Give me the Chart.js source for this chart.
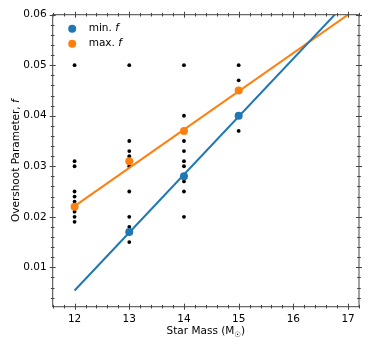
<!DOCTYPE html>
<html>
<head>
<meta charset="utf-8">
<script src="https://cdn.jsdelivr.net/npm/chart.js@4"></script>
<style>
  html, body { margin: 0; padding: 0; background: #fff; }
  #wrap { width: 374px; height: 347px; }
</style>
</head>
<body>
<div id="wrap"><canvas id="overshoot"></canvas></div>
<script>
// observed runs (black dots)
const obsMass = [
  12, 12, 12, 12, 12, 12, 12, 12, 12, 12,
  13, 13, 13, 13, 13, 13, 13, 13, 13, 13, 13,
  14, 14, 14, 14, 14, 14, 14, 14, 14, 14, 14,
  15, 15, 15, 15, 15
]
const obsF = [
  0.050, 0.031, 0.030, 0.025, 0.024, 0.023, 0.022, 0.021, 0.020, 0.019,
  0.050, 0.035, 0.033, 0.032, 0.031, 0.030, 0.025, 0.020, 0.018, 0.017, 0.015,
  0.050, 0.040, 0.037, 0.035, 0.033, 0.031, 0.030, 0.028, 0.027, 0.025, 0.020,
  0.050, 0.047, 0.045, 0.040, 0.037
]

const minMass = [13, 14, 15]
const minF = [0.017, 0.028, 0.040]
const maxMass = [12, 13, 14, 15]
const maxF = [0.022, 0.031, 0.037, 0.045]

// fitted lines
const fitMass = [12, 17]
const minFitF = [0.0054, 0.0628]
const maxFitF = [0.0221, 0.0600]

const xTicks = [12, 13, 14, 15, 16, 17]
const yTicks = [0.01, 0.02, 0.03, 0.04, 0.05, 0.06]
const xRange = [11.6, 17.2]
const yRange = [0.0022, 0.06]

const BLUE = '#1f77b4'
const ORANGE = '#ff7f0e'
const FONT = "'DejaVu Sans', sans-serif"

const pts = (xs, ys) => xs.map((x, i) => ({ x, y: ys[i] }))

const frame = {
  id: 'frame',
  afterDatasetsDraw(chart) {
    const { ctx, chartArea: a, scales: { x, y } } = chart
    ctx.save()
    ctx.strokeStyle = '#444'
    ctx.lineWidth = 1
    ctx.strokeRect(a.left, a.top, a.right - a.left, a.bottom - a.top)

    const tick = (x1, y1, x2, y2) => {
      ctx.beginPath(); ctx.moveTo(x1, y1); ctx.lineTo(x2, y2); ctx.stroke()
    }
    // x ticks, inout on bottom and top
    for (let v = 11.6; v <= 17.2 + 1e-9; v += 0.2) {
      const major = xTicks.some(t => Math.abs(t - v) < 1e-6)
      const h = major ? 3 : 1.8
      const px = Math.round(x.getPixelForValue(v)) + 0.5
      tick(px, a.bottom - h, px, a.bottom + h)
      tick(px, a.top - h, px, a.top + h)
    }
    // y ticks
    for (let v = 0.004; v <= 0.06 + 1e-9; v += 0.002) {
      const major = yTicks.some(t => Math.abs(t - v) < 1e-6)
      const h = major ? 3 : 1.8
      const py = Math.round(y.getPixelForValue(v)) + 0.5
      tick(a.left - h, py, a.left + h, py)
      tick(a.right - h, py, a.right + h, py)
    }

    // legend
    ctx.font = '10.5px ' + FONT
    ctx.textBaseline = 'middle'
    const items = [['min. ', BLUE], ['max. ', ORANGE]]
    items.forEach(([txt, col], i) => {
      const ly = a.top + 14 + i * 15
      ctx.fillStyle = col
      ctx.beginPath(); ctx.arc(a.left + 19.5, ly, 4, 0, Math.PI * 2); ctx.fill()
      ctx.fillStyle = '#000'
      ctx.font = '10.5px ' + FONT
      ctx.fillText(txt, a.left + 36, ly)
      const w = ctx.measureText(txt).width
      ctx.font = 'italic 10.5px ' + FONT
      ctx.fillText('f', a.left + 36 + w, ly)
    })

    // x title
    ctx.fillStyle = '#000'
    ctx.font = '10.5px ' + FONT
    ctx.textBaseline = 'alphabetic'
    const main = 'Star Mass (M'
    const sub = '\u2609'
    const wMain = ctx.measureText(main).width
    ctx.font = '7.5px ' + FONT
    const wSub = ctx.measureText(sub).width
    ctx.font = '10.5px ' + FONT
    const wEnd = ctx.measureText(')').width
    let tx = (a.left + a.right) / 2 - (wMain + wSub + wEnd) / 2
    const ty = 334
    ctx.textAlign = 'left'
    ctx.fillText(main, tx, ty)
    tx += wMain
    ctx.font = '7.5px ' + FONT
    ctx.fillText(sub, tx, ty + 2.5)
    tx += wSub
    ctx.font = '10.5px ' + FONT
    ctx.fillText(')', tx, ty)

    // y title
    ctx.save()
    ctx.translate(19, (a.top + a.bottom) / 2)
    ctx.rotate(-Math.PI / 2)
    const yMain = 'Overshoot Parameter, '
    ctx.font = '10.5px ' + FONT
    const w1 = ctx.measureText(yMain).width
    ctx.font = 'italic 10.5px ' + FONT
    const w2 = ctx.measureText('f').width
    let sx = -(w1 + w2) / 2
    ctx.font = '10.5px ' + FONT
    ctx.fillText(yMain, sx, 0)
    ctx.font = 'italic 10.5px ' + FONT
    ctx.fillText('f', sx + w1, 0)
    ctx.restore()

    ctx.restore()
  }
}

new Chart(document.getElementById('overshoot'), {
  type: 'scatter',
  data: {
    datasets: [
      {
        label: 'min. f',
        data: pts(minMass, minF),
        backgroundColor: BLUE,
        borderColor: BLUE,
        pointRadius: 4,
        pointBorderWidth: 0,
        order: 1
      },
      {
        label: 'max. f',
        data: pts(maxMass, maxF),
        backgroundColor: ORANGE,
        borderColor: ORANGE,
        pointRadius: 4,
        pointBorderWidth: 0,
        order: 2
      },
      {
        label: 'min fit',
        data: pts(fitMass, minFitF),
        showLine: true,
        borderColor: BLUE,
        borderWidth: 2,
        pointRadius: 0,
        clip: 0,
        order: 3
      },
      {
        label: 'max fit',
        data: pts(fitMass, maxFitF),
        showLine: true,
        borderColor: ORANGE,
        borderWidth: 2,
        pointRadius: 0,
        clip: 0,
        order: 4
      },
      {
        label: 'runs',
        data: pts(obsMass, obsF),
        backgroundColor: '#000',
        borderColor: '#000',
        pointRadius: 1.9,
        pointBorderWidth: 0,
        order: 5
      }
    ]
  },
  options: {
    responsive: true,
    maintainAspectRatio: false,
    animation: false,
    events: [],
    layout: { padding: { left: 0, top: 14.7, right: 15, bottom: 0 } },
    plugins: { legend: { display: false }, tooltip: { enabled: false } },
    scales: {
      x: {
        type: 'linear',
        min: xRange[0],
        max: xRange[1],
        afterBuildTicks: s => { s.ticks = xTicks.map(v => ({ value: v })) },
        afterFit: s => { s.height = 40.3 },
        grid: { display: false, drawTicks: false },
        border: { display: false },
        ticks: {
          padding: 6,
          color: '#000',
          font: { family: FONT, size: 10.5 },
          callback: v => String(v)
        }
      },
      y: {
        type: 'linear',
        min: yRange[0],
        max: yRange[1],
        afterBuildTicks: s => { s.ticks = yTicks.map(v => ({ value: v })) },
        afterFit: s => { s.width = 52.7 },
        grid: { display: false, drawTicks: false },
        border: { display: false },
        ticks: {
          padding: 6,
          color: '#000',
          font: { family: FONT, size: 10.5 },
          callback: v => v.toFixed(2)
        }
      }
    }
  },
  plugins: [frame]
})
</script>
</body>
</html>
